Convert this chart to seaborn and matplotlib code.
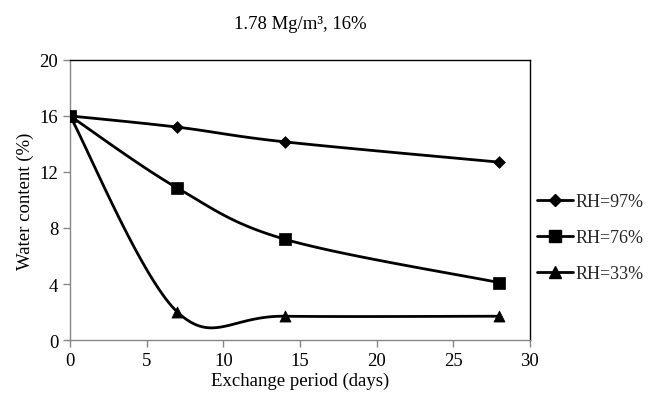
import seaborn as sns
import matplotlib.pyplot as plt
import pandas as pd
import numpy as np
from matplotlib.lines import Line2D

# Datos
days = [0, 7, 14, 28]
rh97 = [16.0, 15.2, 14.15, 12.7]
rh76 = [16.0, 10.85, 7.2, 4.1]
rh33 = [16.0, 2.0, 1.7, 1.7]
labels = ["RH=97%", "RH=76%", "RH=33%"]
markers = ["D", "s", "^"]
msizes = [6, 9, 8]

sns.set_theme(style="white")
plt.rcParams["font.family"] = ["Liberation Serif", "DejaVu Serif"]


def excel_smooth(x, y, n=40):
    # curva suavizada tipo Excel (Bezier Catmull-Rom)
    x = np.asarray(x, float)
    y = np.asarray(y, float)
    px = np.concatenate([[x[0]], x, [x[-1]]])
    py = np.concatenate([[y[0]], y, [y[-1]]])
    xs, ys = [], []
    t = np.linspace(0, 1, n)
    for i in range(len(x) - 1):
        p0 = np.array([px[i + 1], py[i + 1]])
        p3 = np.array([px[i + 2], py[i + 2]])
        c1 = p0 + (np.array([px[i + 2], py[i + 2]]) - np.array([px[i], py[i]])) / 6
        c2 = p3 - (np.array([px[i + 3], py[i + 3]]) - np.array([px[i + 1], py[i + 1]])) / 6
        b = ((1 - t) ** 3)[:, None] * p0 + (3 * (1 - t) ** 2 * t)[:, None] * c1 \
            + (3 * (1 - t) * t ** 2)[:, None] * c2 + (t ** 3)[:, None] * p3
        xs.extend(b[:, 0])
        ys.extend(b[:, 1])
    return xs, ys


fig = plt.figure(figsize=(6.55, 4.06), dpi=100)
ax = fig.add_axes([0.107, 0.16, 0.702, 0.69])

series = [rh97, rh76, rh33]
handles = []
for vals, lab, m, ms in zip(series, labels, markers, msizes):
    sx, sy = excel_smooth(days, vals)
    curve = pd.DataFrame({"x": sx, "y": sy})
    sns.lineplot(data=curve, x="x", y="y", ax=ax, color="black", lw=2,
                 sort=False, estimator=None)
    pts = pd.DataFrame({"x": days, "y": vals})
    sns.scatterplot(data=pts, x="x", y="y", ax=ax, color="black", marker=m,
                    s=ms ** 2, edgecolor="black", linewidth=0.5, zorder=5)
    handles.append(Line2D([], [], color="black", lw=2, marker=m, markersize=ms))

fs = 13.5
ax.set_xlim(0, 30)
ax.set_ylim(0, 20)
ax.set_xticks(range(0, 31, 5))
ax.set_yticks(range(0, 21, 4))
ax.set_xlabel("Exchange period (days)", fontsize=fs, color="black", labelpad=2)
ax.set_ylabel("Water content (%)", fontsize=fs, color="black")
ax.set_title("1.78 Mg/m³, 16%", fontsize=fs, pad=23, color="black")
ax.tick_params(axis="both", labelsize=fs, colors="black", direction="out",
               length=5, width=1, bottom=True, left=True)
ax.tick_params(axis="both", color="#868686")

for side in ["left", "bottom"]:
    ax.spines[side].set_color("#868686")
    ax.spines[side].set_linewidth(1)
for side in ["top", "right"]:
    ax.spines[side].set_color("black")
    ax.spines[side].set_linewidth(1)

ax.legend(handles=handles, labels=labels, loc="center left",
          bbox_to_anchor=(1.0, 0.365), frameon=False, fontsize=13,
          handlelength=2.0, handletextpad=0.15, labelspacing=1.05,
          borderpad=0, borderaxespad=0.4)

fig.savefig("out.png", dpi=100)
